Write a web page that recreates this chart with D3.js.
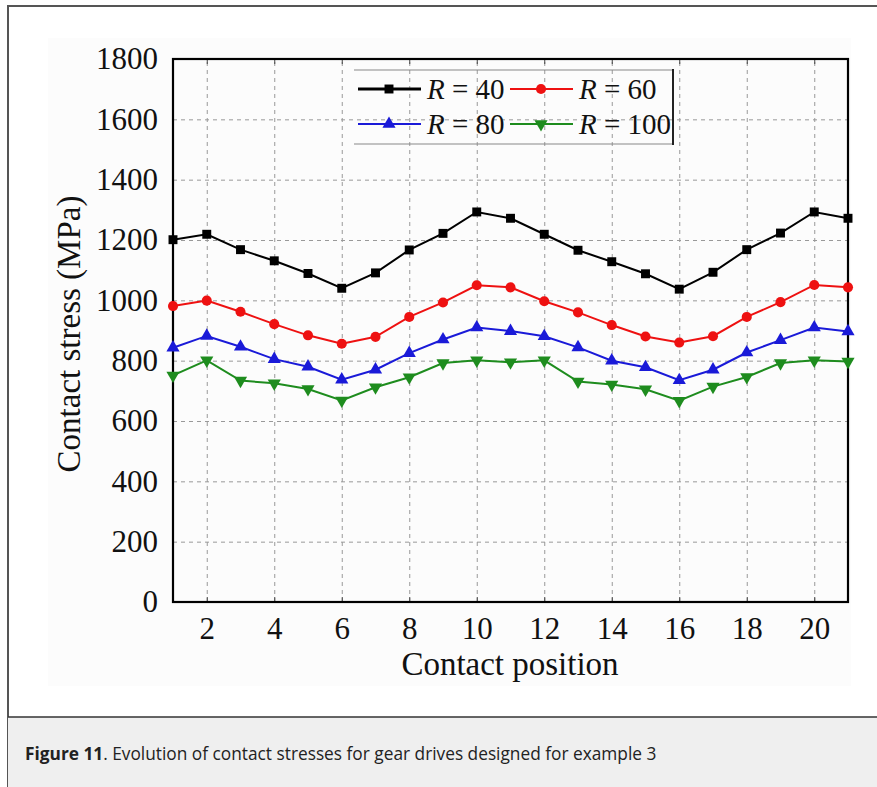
<!DOCTYPE html>
<html>
<head>
<meta charset="utf-8">
<script src="https://cdn.jsdelivr.net/npm/d3@7"></script>
<style>
  body { margin: 0; background: #fff; }
  svg { display: block; }
</style>
</head>
<body>
<svg id="chart" width="877" height="787"></svg>
<script>
// Data
const positions = d3.range(1, 22);
const r40  = [1201, 1219, 1168, 1131, 1089, 1040, 1091, 1167, 1222, 1293, 1272, 1219, 1166, 1128, 1088, 1037, 1093, 1168, 1223, 1293, 1272];
const r60  = [981, 999, 962, 921, 884, 856, 879, 945, 993, 1050, 1043, 997, 960, 918, 880, 860, 881, 945, 994, 1051, 1043];
const r80  = [843, 882, 846, 805, 780, 737, 770, 825, 870, 910, 898, 881, 844, 800, 778, 735, 770, 827, 868, 910, 897];
const r100 = [751, 801, 734, 725, 706, 668, 712, 745, 792, 801, 795, 801, 731, 721, 705, 667, 714, 746, 792, 801, 797];
const seriesNames = ["40", "60", "80", "100"];
const xTicks = [2, 4, 6, 8, 10, 12, 14, 16, 18, 20];
const yTicks = [0, 200, 400, 600, 800, 1000, 1200, 1400, 1600, 1800];

const series = [
  {name: seriesNames[0], values: r40,  color: "#000000", symbol: d3.symbolSquare,   size: 80,  rot: 0},
  {name: seriesNames[1], values: r60,  color: "#ee1111", symbol: d3.symbolCircle,   size: 80,  rot: 0},
  {name: seriesNames[2], values: r80,  color: "#1a1ad8", symbol: d3.symbolTriangle, size: 75,  rot: 0},
  {name: seriesNames[3], values: r100, color: "#1e8c1e", symbol: d3.symbolTriangle, size: 75,  rot: 180}
];

const svg = d3.select("#chart");
const serif = "'Liberation Serif', 'Times New Roman', serif";

// outer figure frame
svg.append("rect").attr("x", 8).attr("y", 6).attr("width", 900).attr("height", 800)
  .attr("fill", "#fff").attr("stroke", "#555").attr("stroke-width", 2);
// faint chart bitmap background
svg.append("rect").attr("x", 48).attr("y", 38).attr("width", 803).attr("height", 648)
  .attr("fill", "#fcfcfc");

// caption band
svg.append("rect").attr("x", 8).attr("y", 717).attr("width", 900).attr("height", 80)
  .attr("fill", "#efefef");
svg.append("line").attr("x1", 8).attr("x2", 877).attr("y1", 717).attr("y2", 717)
  .attr("stroke", "#333").attr("stroke-width", 1.5);
const cap = svg.append("text").attr("x", 25).attr("y", 760)
  .style("font-family", "'Open Sans', 'Noto Sans', sans-serif").style("font-size", "17.3px").attr("fill", "#222");
cap.append("tspan").attr("font-weight", "bold").text("Figure 11");
cap.append("tspan").text(". Evolution of contact stresses for gear drives designed for example 3");

// scales
const x = d3.scaleLinear().domain([1, 21]).range([173, 848]);
const y = d3.scaleLinear().domain([0, 1800]).range([602, 59]);

// grid
const gx = svg.append("g")
  .call(d3.axisBottom(x).tickValues(xTicks).tickSize(0).tickFormat(""))
  .call(g => g.select(".domain").remove());
gx.selectAll(".tick line").attr("y1", y(0)).attr("y2", y(1800))
  .attr("stroke", "#999").attr("stroke-dasharray", "4,4").attr("stroke-width", 1);

const gy = svg.append("g")
  .call(d3.axisLeft(y).tickValues(yTicks.slice(1, -1)).tickSize(0).tickFormat(""))
  .call(g => g.select(".domain").remove());
gy.selectAll(".tick line").attr("x1", x(1)).attr("x2", x(21))
  .attr("stroke", "#999").attr("stroke-dasharray", "4,4").attr("stroke-width", 1);

// axes with labels
const xAxis = svg.append("g").attr("transform", `translate(0,${y(0)})`)
  .call(d3.axisBottom(x).tickValues(xTicks).tickSize(0).tickPadding(15));
xAxis.select(".domain").remove();
xAxis.selectAll("text").style("font-family", serif).style("font-size", "31px").attr("fill", "#111");

const yAxis = svg.append("g").attr("transform", `translate(${x(1)},0)`)
  .call(d3.axisLeft(y).tickValues(yTicks).tickFormat(d3.format("d")).tickSize(0).tickPadding(15));
yAxis.select(".domain").remove();
yAxis.selectAll("text").style("font-family", serif).style("font-size", "31px").attr("fill", "#111");

// inward tick marks
svg.append("g").attr("transform", `translate(0,${y(1800)})`)
  .call(d3.axisBottom(x).tickValues(xTicks).tickSize(5).tickFormat(""))
  .call(g => g.select(".domain").remove())
  .selectAll("line").attr("stroke", "#444");
svg.append("g").attr("transform", `translate(0,${y(0)})`)
  .call(d3.axisTop(x).tickValues(xTicks).tickSize(5).tickFormat(""))
  .call(g => g.select(".domain").remove())
  .selectAll("line").attr("stroke", "#444");

// plot frame
svg.append("rect").attr("x", x(1)).attr("y", y(1800))
  .attr("width", x(21) - x(1)).attr("height", y(0) - y(1800))
  .attr("fill", "none").attr("stroke", "#000").attr("stroke-width", 2.2);

// titles
svg.append("text").attr("x", 510).attr("y", 675).attr("text-anchor", "middle")
  .style("font-family", serif).style("font-size", "33px").attr("fill", "#111")
  .text("Contact position");
svg.append("text").attr("transform", "translate(80,334) rotate(-90)").attr("text-anchor", "middle")
  .style("font-family", serif).style("font-size", "33px").attr("fill", "#111")
  .text("Contact stress (MPa)");

// series
const line = d3.line().x((d, i) => x(positions[i])).y(d => y(d));
const plot = svg.append("g");
series.forEach(s => {
  plot.append("path").datum(s.values).attr("d", line)
    .attr("fill", "none").attr("stroke", s.color).attr("stroke-width", 2);
  plot.selectAll(null).data(s.values).enter().append("path")
    .attr("d", d3.symbol().type(s.symbol).size(s.size))
    .attr("transform", (d, i) => `translate(${x(positions[i])},${y(d)}) rotate(${s.rot})`)
    .attr("fill", s.color);
});

// legend
const leg = svg.append("g");
leg.append("line").attr("x1", 354).attr("x2", 673).attr("y1", 70).attr("y2", 70).attr("stroke", "#888").attr("stroke-width", 1);
leg.append("line").attr("x1", 354).attr("x2", 673).attr("y1", 144).attr("y2", 144).attr("stroke", "#888").attr("stroke-width", 1);
leg.append("line").attr("x1", 673).attr("x2", 673).attr("y1", 69).attr("y2", 145).attr("stroke", "#222").attr("stroke-width", 2);
const legPos = [[358, 89], [510, 89], [358, 124], [510, 124]];
series.forEach((s, i) => {
  const [lx, ly] = legPos[i];
  leg.append("line").attr("x1", lx).attr("x2", lx + 63).attr("y1", ly).attr("y2", ly)
    .attr("stroke", s.color).attr("stroke-width", i === 0 ? 3 : 2);
  leg.append("path").attr("d", d3.symbol().type(s.symbol).size(s.size))
    .attr("transform", `translate(${lx + 31},${ly}) rotate(${s.rot})`).attr("fill", s.color);
  const t = leg.append("text").attr("x", lx + 69).attr("y", ly + 10)
    .style("font-family", serif).style("font-size", "29px").attr("fill", "#111");
  t.append("tspan").attr("font-style", "italic").text("R");
  t.append("tspan").text(" = " + s.name);
});
</script>
</body>
</html>
